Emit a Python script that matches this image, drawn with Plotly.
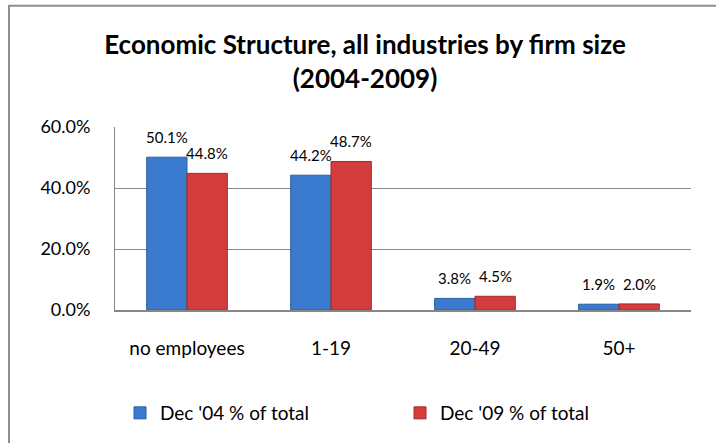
import plotly.graph_objects as go

categories = ["no employees", "1-19", "20-49", "50+"]
dec04 = [50.1, 44.2, 3.8, 1.9]
dec09 = [44.8, 48.7, 4.5, 2.0]
series_names = ["Dec '04 % of total", "Dec '09 % of total"]
y_ticks = [0, 20, 40, 60]

FONT = "Lato"
W, H = 716, 443
L, R, T, B = 115, 25, 127, 132

BLUE, BLUE_EDGE = "#3b7bcf", "#2a5ea6"
RED, RED_EDGE = "#d53c3c", "#a82828"

fig = go.Figure()
for name, vals, col, edge in [(series_names[0], dec04, BLUE, BLUE_EDGE),
                              (series_names[1], dec09, RED, RED_EDGE)]:
    fig.add_trace(go.Bar(
        x=categories, y=vals, name=name,
        marker=dict(color=col, line=dict(color=edge, width=1)),
    ))

# value labels floating a little above each bar
for vals, dx in [(dec04, -20.2), (dec09, 20.2)]:
    for c, v in zip(categories, vals):
        fig.add_annotation(x=c, y=v, text=f"{v:.1f}%", showarrow=False,
                           xshift=dx, yshift=20, yanchor="middle",
                           font=dict(family=FONT, size=15, color="#000000"))

pw, ph = W - L - R, H - T - B
def px_x(p):
    return (p - L) / pw
def px_y(p):
    return (H - B - p) / ph

# outer chart frame (left and top edges visible)
fig.add_shape(type="rect", xref="paper", yref="paper",
              x0=px_x(9), x1=px_x(730), y0=px_y(460), y1=px_y(5),
              line=dict(color="#8e8e8e", width=2), fillcolor="rgba(0,0,0,0)",
              layer="below")

fig.update_layout(
    width=W, height=H,
    margin=dict(l=L, r=R, t=T, b=B),
    paper_bgcolor="white", plot_bgcolor="white",
    barmode="group", bargap=0.44, bargroupgap=0,
    font=dict(family=FONT, color="#000000"),
    title=dict(text="<b>Economic Structure, all industries by firm size<br>(2004-2009)</b>",
               x=365 / W, xref="container", xanchor="center",
               y=1 - 54 / H, yref="container", yanchor="top",
               font=dict(family=FONT, size=26, color="#000000")),
    xaxis=dict(showgrid=False, showline=True, linecolor="#868686", linewidth=2,
               ticks="", tickfont=dict(family=FONT, size=19), ticklabelstandoff=20),
    yaxis=dict(range=[0, 60], tickvals=y_ticks,
               ticktext=[f"{v:.1f}%" for v in y_ticks],
               showgrid=True, gridcolor="#8a8a8a", gridwidth=1,
               showline=True, linecolor="#868686", linewidth=1,
               zeroline=False, ticks="", ticklabelstandoff=20,
               tickfont=dict(family=FONT, size=18)),
    showlegend=True,
    legend=dict(orientation="h", x=px_x(120), xanchor="left",
                y=px_y(413), yanchor="middle",
                font=dict(family=FONT, size=19),
                entrywidth=235, entrywidthmode="pixels",
                itemwidth=30, bgcolor="rgba(0,0,0,0)"),
)

fig.write_html("out.html")
